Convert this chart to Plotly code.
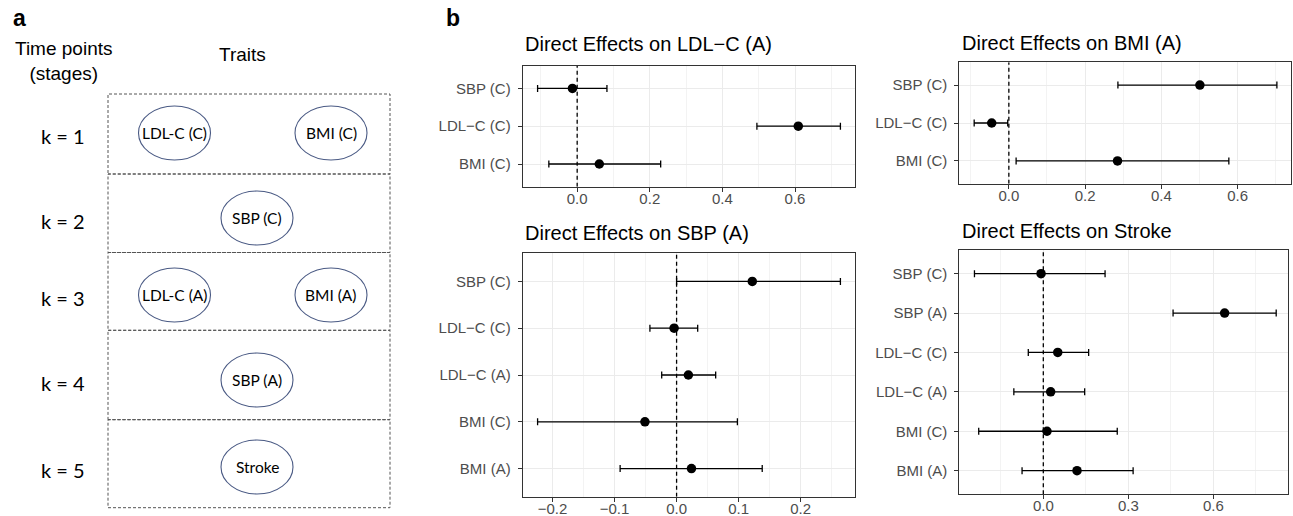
import plotly.graph_objects as go

W, H = 1293, 516

# ---------------- Panel a data ----------------
stage_labels = ["k = 1", "k = 2", "k = 3", "k = 4", "k = 5"]
stage_traits = [["LDL-C (C)", "BMI (C)"], ["SBP (C)"], ["LDL-C (A)", "BMI (A)"], ["SBP (A)"], ["Stroke"]]

# ---------------- Panel b data ----------------
ldl_a_terms = ["SBP (C)", "LDL\u2212C (C)", "BMI (C)"]
ldl_a_est = [-0.013, 0.609, 0.061]
ldl_a_lo = [-0.109, 0.495, -0.078]
ldl_a_hi = [0.082, 0.725, 0.230]

bmi_a_terms = ["SBP (C)", "LDL\u2212C (C)", "BMI (C)"]
bmi_a_est = [0.501, -0.045, 0.285]
bmi_a_lo = [0.286, -0.091, 0.019]
bmi_a_hi = [0.703, -0.003, 0.577]

sbp_a_terms = ["SBP (C)", "LDL\u2212C (C)", "LDL\u2212C (A)", "BMI (C)", "BMI (A)"]
sbp_a_est = [0.122, -0.004, 0.019, -0.051, 0.024]
sbp_a_lo = [0.000, -0.043, -0.024, -0.224, -0.091]
sbp_a_hi = [0.264, 0.034, 0.063, 0.098, 0.138]

stroke_terms = ["SBP (C)", "SBP (A)", "LDL\u2212C (C)", "LDL\u2212C (A)", "BMI (C)", "BMI (A)"]
stroke_est = [-0.008, 0.640, 0.051, 0.026, 0.013, 0.119]
stroke_lo = [-0.243, 0.458, -0.053, -0.104, -0.228, -0.075]
stroke_hi = [0.218, 0.822, 0.160, 0.146, 0.261, 0.317]

panel_titles = ["Direct Effects on LDL\u2212C (A)", "Direct Effects on BMI (A)",
                "Direct Effects on SBP (A)", "Direct Effects on Stroke"]


def px(x):
    return x / W


def py(y):
    return 1 - y / H


SANS = "Liberation Sans, Arial, Helvetica, sans-serif"
CAL = "Lato, Carlito, Calibri, sans-serif"

fig = go.Figure()

# ---------- forest panels ----------
panels = [
    dict(terms=ldl_a_terms, est=ldl_a_est, lo=ldl_a_lo, hi=ldl_a_hi,
         xdom=(522.7, 855.3), ydom=(65.7, 186.7), xr=(-0.150, 0.766), dt=0.2,
         title_xy=(523, 44)),
    dict(terms=bmi_a_terms, est=bmi_a_est, lo=bmi_a_lo, hi=bmi_a_hi,
         xdom=(959.3, 1291.0), ydom=(62.3, 183.7), xr=(-0.130, 0.740), dt=0.2,
         title_xy=(960, 42.5)),
    dict(terms=sbp_a_terms, est=sbp_a_est, lo=sbp_a_lo, hi=sbp_a_hi,
         xdom=(522.7, 855.3), ydom=(253.3, 496.7), xr=(-0.248, 0.288), dt=0.1,
         title_xy=(523, 232.5)),
    dict(terms=stroke_terms, est=stroke_est, lo=stroke_lo, hi=stroke_hi,
         xdom=(959.3, 1287.7), ydom=(250.0, 494.3), xr=(-0.2965, 0.8626), dt=0.3,
         title_xy=(960, 230.5)),
]

annotations = []
shapes = []

for i, p in enumerate(panels, start=1):
    sfx = "" if i == 1 else str(i)
    xa, ya = "x" + sfx, "y" + sfx
    n = len(p["terms"])
    rows = list(range(n))
    plus = [h - e for h, e in zip(p["hi"], p["est"])]
    minus = [e - l for e, l in zip(p["est"], p["lo"])]
    yr = [n - 0.4, -0.6]
    # dashed reference line at zero (drawn under the points)
    fig.add_trace(go.Scatter(
        x=[0, 0], y=yr, mode="lines", xaxis=xa, yaxis=ya,
        line=dict(color="black", width=1.3, dash="4px,3px"),
        showlegend=False, hoverinfo="skip"))
    fig.add_trace(go.Scatter(
        x=p["est"], y=rows, mode="markers", xaxis=xa, yaxis=ya,
        marker=dict(color="black", size=9.5),
        error_x=dict(type="data", symmetric=False, array=plus, arrayminus=minus,
                     color="black", thickness=1.3, width=3.5),
        showlegend=False, hoverinfo="skip"))
    axis_common = dict(showline=True, mirror=True, linecolor="#333333", linewidth=1,
                       ticks="outside", ticklen=4, tickcolor="#333333", tickwidth=1,
                       tickfont=dict(family=SANS, size=15, color="#4d4d4d"),
                       gridcolor="#ebebeb", gridwidth=1, zeroline=False)
    fig.layout["xaxis" + sfx] = dict(
        domain=[px(p["xdom"][0]), px(p["xdom"][1])], anchor=ya,
        range=list(p["xr"]), dtick=p["dt"], tick0=0, tickformat=".1f",
        minor=dict(dtick=p["dt"] / 2, tick0=0, showgrid=True, gridcolor="#f3f3f3",
                   gridwidth=1, ticks=""),
        ticklabelstandoff=-6,
        **axis_common)
    fig.layout["yaxis" + sfx] = dict(
        domain=[py(p["ydom"][1]), py(p["ydom"][0])], anchor=xa,
        tickmode="array", tickvals=rows, ticktext=p["terms"],
        range=yr, ticklabelstandoff=4,
        **axis_common)
    tx, ty = p["title_xy"]
    annotations.append(dict(text=panel_titles[i - 1], xref="paper", yref="paper",
                            x=px(tx), y=py(ty), xanchor="left", yanchor="middle",
                            showarrow=False, font=dict(family=SANS, size=20, color="black")))

# ---------- panel a (schematic) ----------
box_x0, box_x1 = 108, 390
box_edges = [94, 174, 252.5, 330.3, 419.7, 507.7]
row_cy = [133, 218, 295, 380, 467]
pair_x = [174.5, 331]
single_x = 257
ell_w, ell_h = 72, 54

for r, (lab, traits) in enumerate(zip(stage_labels, stage_traits)):
    shapes.append(dict(type="rect", xref="paper", yref="paper",
                       x0=px(box_x0), x1=px(box_x1), y0=py(box_edges[r + 1]), y1=py(box_edges[r]),
                       line=dict(color="#555555", width=1, dash="3px,2px")))
    annotations.append(dict(text=lab, xref="paper", yref="paper", x=px(63), y=py(row_cy[r] + 3),
                            xanchor="center", yanchor="middle", showarrow=False,
                            font=dict(family=CAL, size=20, color="black")))
    xs = pair_x if len(traits) == 2 else [single_x]
    for cx, t in zip(xs, traits):
        shapes.append(dict(type="circle", xref="paper", yref="paper",
                           x0=px(cx - ell_w / 2), x1=px(cx + ell_w / 2),
                           y0=py(row_cy[r] + ell_h / 2), y1=py(row_cy[r] - ell_h / 2),
                           line=dict(color="#4a5a84", width=1.1)))
        annotations.append(dict(text=t, xref="paper", yref="paper", x=px(cx), y=py(row_cy[r]),
                                xanchor="center", yanchor="middle", showarrow=False,
                                font=dict(family=CAL, size=15.5, color="black")))

annotations.append(dict(text="Time points<br>(stages)", xref="paper", yref="paper",
                        x=px(64), y=py(61), xanchor="center", yanchor="middle", align="center",
                        showarrow=False, font=dict(family=SANS, size=19, color="black")))
annotations.append(dict(text="Traits", xref="paper", yref="paper", x=px(242.5), y=py(55),
                        xanchor="center", yanchor="middle", showarrow=False,
                        font=dict(family=SANS, size=19, color="black")))
annotations.append(dict(text="<b>a</b>", xref="paper", yref="paper", x=px(11), y=py(18),
                        xanchor="left", yanchor="middle", showarrow=False,
                        font=dict(family=SANS, size=23, color="black")))
annotations.append(dict(text="<b>b</b>", xref="paper", yref="paper", x=px(444), y=py(18),
                        xanchor="left", yanchor="middle", showarrow=False,
                        font=dict(family=SANS, size=23, color="black")))

fig.update_layout(width=W, height=H, autosize=False,
                  margin=dict(l=0, r=0, t=0, b=0),
                  paper_bgcolor="white", plot_bgcolor="white",
                  annotations=annotations, shapes=shapes, showlegend=False)

# remove the browser's default 8px page margin so the figure sits at the window origin
fig.write_html("out.html", config={"displayModeBar": False},
               post_script="document.body.style.margin='0px';document.body.style.overflow='hidden';")
